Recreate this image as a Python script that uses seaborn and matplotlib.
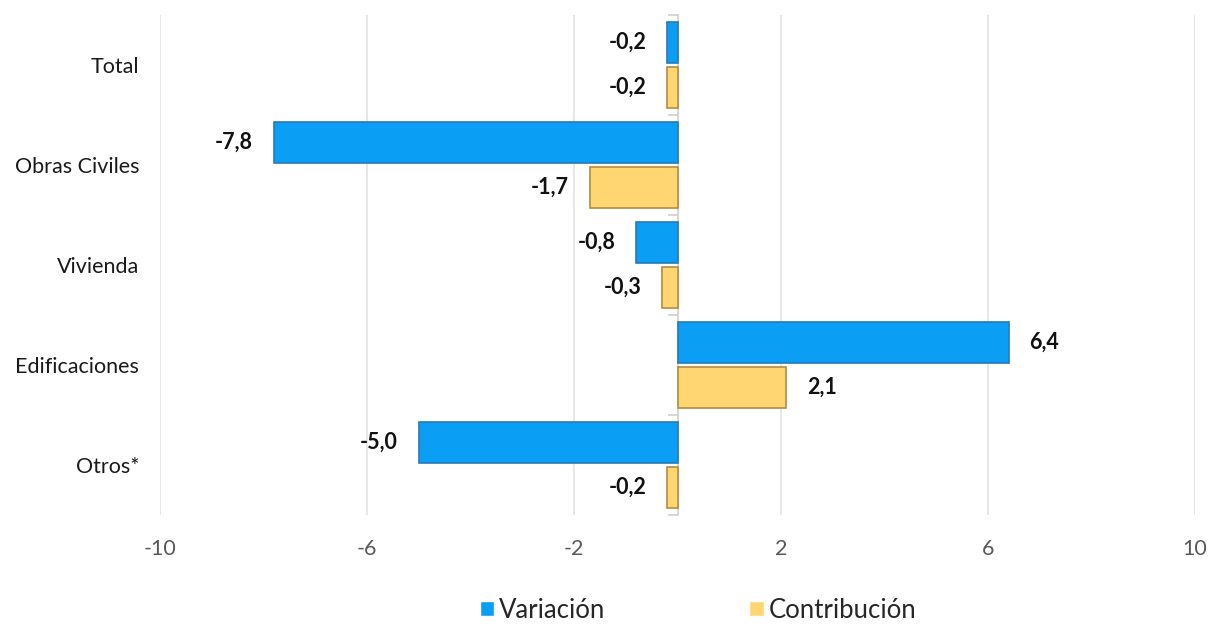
import matplotlib
matplotlib.use("Agg")
import matplotlib.pyplot as plt
import seaborn as sns
import pandas as pd

categories = ["Total", "Obras Civiles", "Vivienda", "Edificaciones", "Otros*"]
variacion = [-0.2, -7.8, -0.8, 6.4, -5.0]
contribucion = [-0.2, -1.7, -0.3, 2.1, -0.2]
series_names = ["Variación", "Contribución"]
x_ticks = [-10, -6, -2, 2, 6, 10]

df = pd.DataFrame({
    "cat": categories * 2,
    "val": variacion + contribucion,
    "serie": [series_names[0]] * len(categories) + [series_names[1]] * len(categories),
})

sns.set_theme(style="white")
plt.rcParams["font.family"] = ["Lato", "DejaVu Sans"]

fig = plt.figure(figsize=(12.1, 6.24), dpi=100)
ax = fig.add_axes([160 / 1210, 1 - 515 / 624, (1195 - 160) / 1210, 500 / 624])

colors = ["#0A9FF5", "#FFD672"]
edges = ["#2A78B8", "#B08E40"]
sns.barplot(data=df, y="cat", x="val", hue="serie", order=categories,
            hue_order=series_names, palette=colors, orient="h",
            width=0.9, gap=0.08, ax=ax, legend=True, saturation=1)

for cont, ec in zip(ax.containers, edges):
    for p in cont:
        p.set_edgecolor(ec)
        p.set_linewidth(1.2)
    labels = [f"{p.get_width():.1f}".replace(".", ",") for p in cont]
    ax.bar_label(cont, labels=labels, padding=15, fontsize=15.5, fontweight="bold", color="#111111")

ax.set_xlim(-10, 10)
ax.set_ylim(4.5, -0.5)
ax.set_xticks(x_ticks)
ax.set_xticklabels([str(t) for t in x_ticks])
ax.xaxis.grid(True, color="#E3E3E3", linewidth=1.2)
ax.set_axisbelow(True)
ax.tick_params(axis="x", length=0, pad=17, labelsize=15.5, labelcolor="#595959")
ax.tick_params(axis="y", length=0, pad=15, labelsize=15.5, labelcolor="#1a1a1a")
ax.set_xlabel("")
ax.set_ylabel("")
for s in ax.spines.values():
    s.set_visible(False)

sec = ax.secondary_yaxis(0.5)
sec.set_yticks([i - 0.5 for i in range(len(categories) + 1)])
sec.set_yticklabels([])
sec.tick_params(direction="in", length=7, color="#CFCFCF", width=1.2)
for s in sec.spines.values():
    s.set_color("#CFCFCF")
    s.set_linewidth(1.2)

h, l = ax.get_legend_handles_labels()
ax.legend(h, l, loc="center", bbox_to_anchor=(0.52, -0.19), ncol=2, frameon=False,
          fontsize=18.5, handlelength=0.55, handleheight=0.55, handletextpad=0.2,
          columnspacing=5.6)

fig.savefig("out.png", dpi=100)
